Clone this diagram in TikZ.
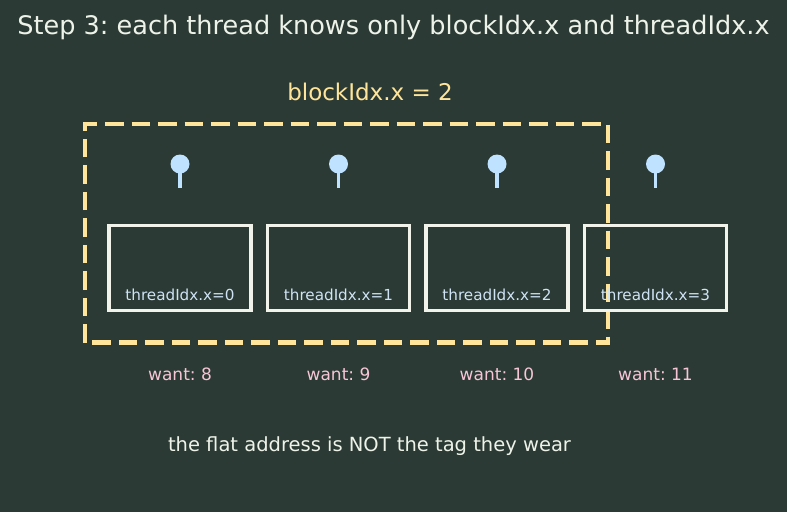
\documentclass[tikz,border=0pt]{standalone}
\usepackage{fontspec}
\setmainfont{DejaVu Sans}
\usepackage{tikz}
\usepackage{xcolor}
\frenchspacing

\definecolor{bgcol}{HTML}{2B3A34}
\definecolor{titlecol}{HTML}{EEF3EA}
\definecolor{blockcol}{HTML}{FFE59B}
\definecolor{pincol}{HTML}{BEE2FF}
\definecolor{boxcol}{HTML}{F2F3EA}
\definecolor{tidcol}{HTML}{CFE3F5}
\definecolor{wantcol}{HTML}{F6C6D6}

\begin{document}
\begin{tikzpicture}[x=1pt,y=-1pt,every node/.style={inner sep=0pt}]
\fill[bgcol] (0,0) rectangle (787,512);
\useasboundingbox (0,0) rectangle (787,512);
\node[anchor=base,titlecol,font=\fontsize{25.55}{30}\selectfont] (title) at (393.5,34) {Step 3: each thread knows only blockIdx.x and threadIdx.x};
\node[anchor=base,blockcol,font=\fontsize{23}{27}\selectfont] (blk) at (370,100) {blockIdx.x = 2};
\draw[blockcol,line width=4.5pt,dash pattern=on 18.5pt off 8pt] (85,342.5) rectangle (608,124);
\foreach \i/\w in {0/8,1/9,2/10,3/11} {
  \draw[boxcol,line width=3.8pt] ({109+158.5*\i},225.5) rectangle ({251+158.5*\i},310.5);
  \node[anchor=base,tidcol,font=\fontsize{15.2}{18}\selectfont] (tid\i) at ({180+158.5*\i},300) {threadIdx.x=\i};
  \draw[pincol,line width=3.5pt] ({180+158.5*\i},170) -- ({180+158.5*\i},188);
  \fill[pincol] ({180+158.5*\i},164) circle (9.5);
  \node[anchor=base,wantcol,font=\fontsize{17}{20}\selectfont] (want\i) at ({180+158.5*\i},380) {want: \w};
}
\node[anchor=base,titlecol,font=\fontsize{19.5}{23}\selectfont] (note) at (369.5,451.5) {the flat address is NOT the tag they wear};
\end{tikzpicture}
\end{document}
